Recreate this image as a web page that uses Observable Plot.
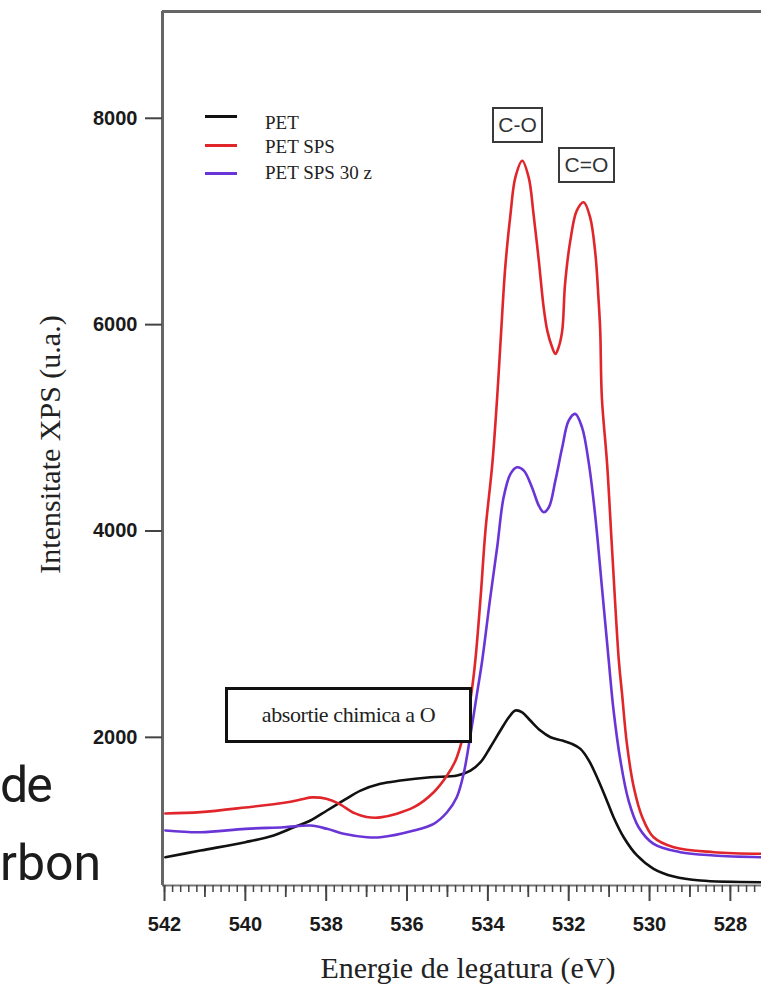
<!DOCTYPE html>
<html><head><meta charset="utf-8">
<script src="https://cdn.jsdelivr.net/npm/d3@7"></script>
<script src="https://cdn.jsdelivr.net/npm/@observablehq/plot@0.6"></script>
<style>
html,body{margin:0;padding:0;background:#fff;}
#wrap{position:relative;width:761px;height:987px;overflow:hidden;background:#fff;}
#wrap svg{position:absolute;left:0;top:0;}
.ov{position:absolute;white-space:nowrap;}
.box{position:absolute;box-sizing:border-box;display:flex;align-items:center;justify-content:center;background:#fff;white-space:nowrap;}
</style></head><body><div id="wrap"></div>
<script>
// ---- series ----
const seriesNames = ["PET", "PET SPS", "PET SPS 30 z"];
const seriesColors = ["#111111", "#e0262a", "#6a35d6"];

// PET (black)
const petE = [541.98,541.11,540.0,539.30,538.80,538.39,537.98,537.57,537.15,536.66,536.16,535.42,534.76,534.43,534.18,533.94,533.69,533.48,533.32,533.15,532.95,532.70,532.45,532.16,531.92,531.71,531.50,531.30,531.09,530.89,530.64,530.31,529.90,529.40,528.74,527.20];
const petI = [838,903,984,1049,1129,1194,1291,1388,1484,1550,1581,1613,1630,1678,1759,1904,2066,2195,2260,2243,2163,2066,2001,1969,1937,1888,1775,1613,1420,1226,1032,855,726,651,612,596];

// PET SPS (red)
const spsE = [541.98,541.11,540.0,539.0,538.6,538.35,538.0,537.7,537.3,537.0,536.66,535.83,535.34,535.01,534.80,534.64,534.51,534.41,534.31,534.18,534.06,533.89,533.77,533.67,533.57,533.44,533.32,533.15,532.99,532.87,532.74,532.62,532.53,532.41,532.33,532.25,532.16,532.09,531.96,531.80,531.63,531.47,531.34,531.26,531.22,531.18,531.05,530.93,530.76,530.68,530.56,530.39,530.18,529.90,529.40,528.41,527.20];
const spsI = [1262,1275,1320,1368,1400,1418,1405,1360,1265,1228,1224,1323,1468,1630,1775,1969,2195,2421,2745,3356,4004,4650,5296,5942,6555,7072,7427,7589,7427,7072,6620,6168,5942,5780,5716,5780,5942,6394,6814,7105,7186,7040,6685,6233,5942,5296,4650,3842,2745,2421,1937,1516,1226,1032,935,887,871];

// PET SPS 30 z (purple)
const sps30E = [541.98,541.11,540.0,539.05,538.39,537.98,537.57,536.99,536.66,535.83,535.34,535.01,534.77,534.60,534.44,534.27,534.14,533.94,533.77,533.61,533.44,533.28,533.11,532.91,532.74,532.62,532.49,532.33,532.16,532.0,531.84,531.67,531.50,531.34,531.17,531.01,530.89,530.72,530.52,530.27,529.90,529.24,528.41,527.20];
const sps30I = [1097,1080,1113,1129,1145,1113,1065,1032,1032,1097,1162,1274,1420,1646,2001,2421,2745,3357,3842,4327,4553,4617,4585,4424,4246,4182,4230,4488,4811,5070,5135,5005,4650,4133,3422,2745,2260,1775,1388,1129,968,887,855,838];

// ---- axes ----
const xTickLabels = [542, 540, 538, 536, 534, 532, 530, 528];
const xMidTicks = [541, 539, 537, 535, 533, 531, 529];
const yTicks = [2000, 4000, 6000, 8000];
const xTitle = "Energie de legatura (eV)";
const yTitle = "Intensitate XPS (u.a.)";
const xDomain = [542.05, 527.23];
const yDomain = [564, 9035];

// ---- annotations ----
const peakLabels = ["C-O", "C=O"];
const regionLabel = "absortie chimica a O";
const slideFragments = ["de", "rbon"];

const data = [];
[[petE, petI], [spsE, spsI], [sps30E, sps30I]].forEach(([E, I], k) => {
  E.forEach((e, i) => data.push({series: seriesNames[k], E: e, I: I[i]}));
});
const minorTicks = d3.range(5272, 5421, 2).map(v => v / 10);

const axisFont = {fontFamily: "Liberation Sans, Arial, sans-serif", fontWeight: "bold", fontSize: 20};
const serif = "Liberation Serif, Times New Roman, serif";

const chart = Plot.plot({
  width: 761,
  height: 987,
  marginLeft: 162,
  marginRight: 0,
  marginTop: 11,
  marginBottom: 102,
  style: {background: "transparent", color: "#222"},
  x: {domain: xDomain, label: null},
  y: {domain: yDomain, label: null},
  color: {domain: seriesNames, range: seriesColors},
  marks: [
    Plot.ruleY([yDomain[1]], {stroke: "#666", strokeWidth: 3}),
    Plot.ruleX([xDomain[0]], {stroke: "#666", strokeWidth: 3}),
    Plot.ruleY([yDomain[0]], {stroke: "#777", strokeWidth: 2}),
    Plot.axisX({ticks: minorTicks, tickSize: 7, tickFormat: () => "", stroke: "#444", strokeWidth: 1.5, label: null}),
    Plot.axisX({ticks: xMidTicks, tickSize: 12, tickFormat: () => "", stroke: "#444", strokeWidth: 1.8, label: null}),
    Plot.axisX({ticks: xTickLabels, tickSize: 16, tickPadding: 15, tickFormat: d => String(d), stroke: "#444", strokeWidth: 2, label: null, fill: "#1a1a1a", ...axisFont}),
    Plot.axisY({ticks: yTicks, tickSize: 17, tickPadding: 8, tickFormat: d => String(d), stroke: "#444", strokeWidth: 2, label: null, fill: "#1a1a1a", ...axisFont}),
    Plot.line(data, {x: "E", y: "I", z: "series", stroke: "series", strokeWidth: 2.6, curve: "catmull-rom"}),
    Plot.text([xTitle], {frameAnchor: "bottom", textAnchor: "middle", dx: 6, dy: 83, lineAnchor: "middle", fontFamily: serif, fontSize: 30, fill: "#222"}),
    Plot.text([yTitle], {frameAnchor: "left", textAnchor: "middle", dx: -112, dy: -4, rotate: -90, lineAnchor: "middle", fontFamily: serif, fontSize: 30, fill: "#222"})
  ]
});

const wrap = document.getElementById("wrap");
wrap.appendChild(chart);

// legend (inside plot area, upper-left)
const legendLineY = [116, 145, 173];
const legendTextY = [123, 147, 173];
seriesNames.forEach((name, i) => {
  const sw = document.createElement("div");
  sw.className = "ov";
  sw.style.cssText = `left:205px;top:${legendLineY[i] - 1.5}px;width:32px;height:3px;background:${seriesColors[i]};`;
  wrap.appendChild(sw);
  const t = document.createElement("div");
  t.className = "ov";
  t.textContent = name;
  t.style.cssText = `left:265px;top:${legendTextY[i] - 10}px;height:20px;line-height:20px;font-family:'Liberation Serif',serif;font-size:19px;color:#222;`;
  wrap.appendChild(t);
});

// peak label boxes
const peakBoxes = [
  {left: 492, top: 107, w: 51, h: 36},
  {left: 558, top: 147, w: 57, h: 36}
];
peakLabels.forEach((lab, i) => {
  const b = document.createElement("div");
  b.className = "box";
  const p = peakBoxes[i];
  b.style.cssText += `left:${p.left}px;top:${p.top}px;width:${p.w}px;height:${p.h}px;border:2px solid #3a3a3a;font-family:'Liberation Sans',Arial,sans-serif;font-size:21px;color:#333;`;
  b.textContent = lab;
  wrap.appendChild(b);
});

// region label box
const rb = document.createElement("div");
rb.className = "box";
rb.style.cssText += "left:225px;top:687px;width:247px;height:56px;border:3px solid #111;font-family:'Liberation Serif',serif;font-size:22px;letter-spacing:-0.4px;color:#222;";
rb.textContent = regionLabel;
wrap.appendChild(rb);

// slide text fragments on the left edge
const fragTop = [760, 838];
slideFragments.forEach((s, i) => {
  const f = document.createElement("div");
  f.className = "ov";
  f.style.cssText = `left:0px;top:${fragTop[i]}px;line-height:50px;font-family:Roboto,sans-serif;font-size:50px;font-weight:400;letter-spacing:${i === 0 ? -2 : 0}px;color:#1c1c1c;`;
  f.textContent = s;
  wrap.appendChild(f);
});
</script>
</body></html>
